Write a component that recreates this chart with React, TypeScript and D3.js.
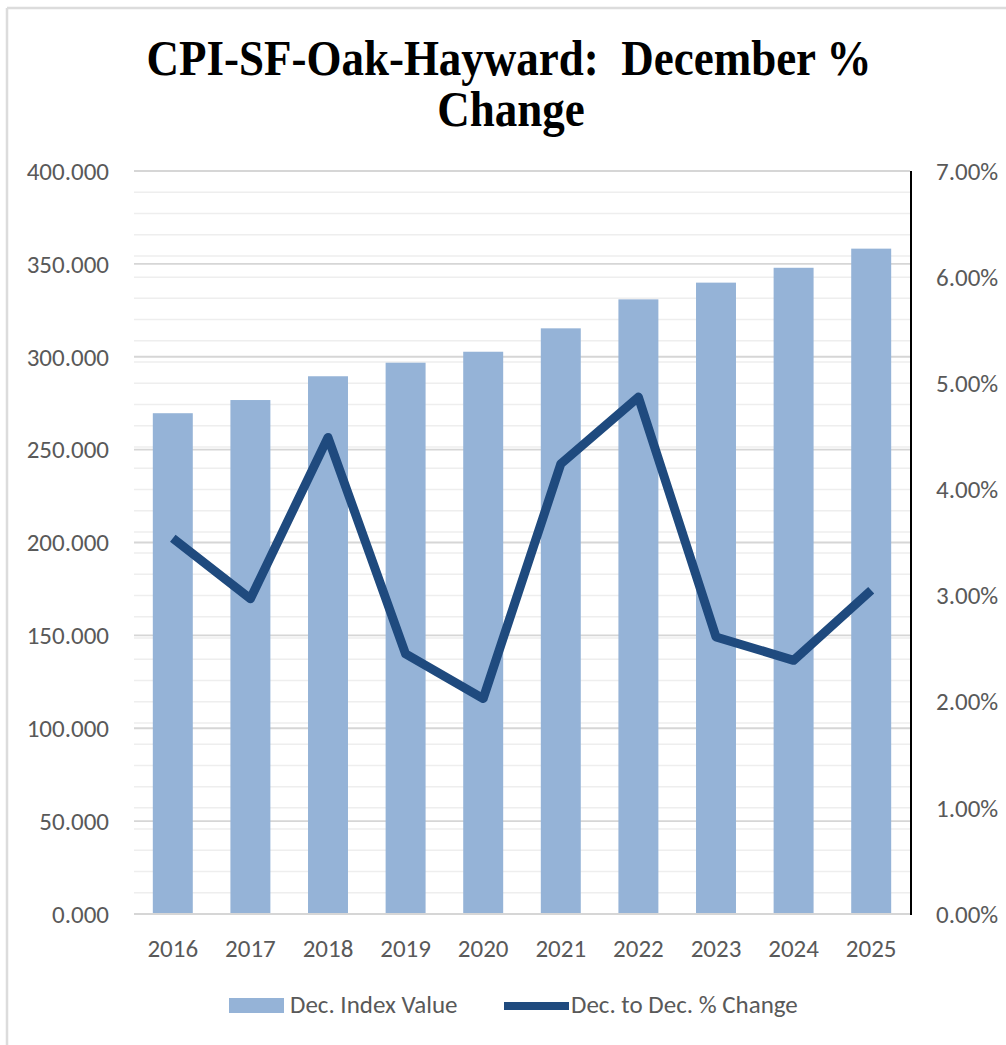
import React from "react";
import * as d3 from "d3";

const years = ["2016", "2017", "2018", "2019", "2020", "2021", "2022", "2023", "2024", "2025"];
const indexValues = [269.6, 276.7, 289.5, 296.8, 302.7, 315.3, 330.9, 339.9, 347.9, 358.2];
const pctChange = [3.54, 2.97, 4.49, 2.45, 2.03, 4.24, 4.87, 2.61, 2.39, 3.05];
const leftTicks = [0, 50, 100, 150, 200, 250, 300, 350, 400];
const rightTicks = [0, 1, 2, 3, 4, 5, 6, 7];
const titleLines = ["CPI-SF-Oak-Hayward:  December %", "Change"];
const legendLabels = ["Dec. Index Value", "Dec. to Dec. % Change"];

const W = 1006;
const H = 1045;
const plotLeft = 134;
const plotRight = 910;
const plotTop = 171;
const plotBottom = 914;

const BAR = "#95B3D7";
const LINE = "#1F4A7E";
const TXT = "#595959";
const FONT = "Carlito, Lato, sans-serif";

const keepSpaces = (s: string) => s.replace(/  /g, " \u00A0");

export default function App() {
  const x = d3
    .scaleBand<string>()
    .domain(years)
    .range([plotLeft, plotRight])
    .paddingInner(0.485)
    .paddingOuter(0.2425);
  const yL = d3.scaleLinear().domain([0, 400]).range([plotBottom, plotTop]);
  const yR = d3.scaleLinear().domain([0, 7]).range([plotBottom, plotTop]);

  const minorTicks = d3.range(0, 7.0001, 0.2);

  const line = d3
    .line<number>()
    .x((_, i) => (x(years[i]) as number) + x.bandwidth() / 2)
    .y((d) => yR(d));

  return (
    <svg
      width={W}
      height={H}
      style={{ position: "absolute", left: 0, top: 0, background: "#fff" }}
    >
      <rect x={0} y={0} width={W} height={H} fill="#fff" />
      {/* chart frame */}
      <line x1={7} y1={8} x2={W + 5} y2={8} stroke="#dcdcdc" strokeWidth={2.5} />
      <line x1={7} y1={8} x2={7} y2={H + 5} stroke="#dcdcdc" strokeWidth={2.5} />

      {/* title */}
      <g
        fontFamily="'Liberation Serif', 'Times New Roman', serif"
        fontWeight="bold"
        fill="#000"
      >
        <text x={509} y={75} textAnchor="middle" fontSize={50} transform="translate(509,0) scale(0.9,1) translate(-509,0)">
          {keepSpaces(titleLines[0])}
        </text>
        <text x={511} y={126} textAnchor="middle" fontSize={50} transform="translate(511,0) scale(0.9,1) translate(-511,0)">
          {titleLines[1]}
        </text>
      </g>

      {/* minor gridlines (secondary axis) */}
      {minorTicks.map((t, i) => (
        <line
          key={"m" + i}
          x1={plotLeft}
          x2={plotRight}
          y1={yR(t)}
          y2={yR(t)}
          stroke="#eeeeee"
          strokeWidth={1.5}
        />
      ))}
      {/* major gridlines (primary axis) */}
      {leftTicks.map((t) => (
        <line
          key={"g" + t}
          x1={plotLeft}
          x2={plotRight}
          y1={yL(t)}
          y2={yL(t)}
          stroke="#d6d6d6"
          strokeWidth={1.8}
        />
      ))}

      {/* bars */}
      {indexValues.map((v, i) => (
        <rect
          key={"b" + i}
          x={x(years[i])}
          y={yL(v)}
          width={x.bandwidth()}
          height={yL(0) - yL(v)}
          fill={BAR}
        />
      ))}

      {/* x axis line */}
      <line x1={plotLeft} x2={plotRight} y1={plotBottom} y2={plotBottom} stroke="#d6d6d6" strokeWidth={2} />
      {/* right axis line */}
      <line x1={911} x2={911} y1={plotTop} y2={plotBottom + 1} stroke="#000" strokeWidth={2} />

      {/* line series */}
      <path
        d={line(pctChange) || ""}
        fill="none"
        stroke={LINE}
        strokeWidth={9}
        strokeLinejoin="round"
        strokeLinecap="butt"
      />

      {/* axis labels */}
      <g fontFamily={FONT} fontSize={25} fill={TXT}>
        {leftTicks.map((t) => (
          <text key={"l" + t} x={109} y={yL(t)} dy="0.35em" textAnchor="end">
            {d3.format(".3f")(t)}
          </text>
        ))}
        {rightTicks.map((t) => (
          <text key={"r" + t} x={936} y={yR(t)} dy="0.35em" textAnchor="start">
            {d3.format(".2f")(t) + "%"}
          </text>
        ))}
        {years.map((yv) => (
          <text
            key={"x" + yv}
            x={(x(yv) as number) + x.bandwidth() / 2}
            y={957}
            textAnchor="middle"
          >
            {yv}
          </text>
        ))}
      </g>

      {/* legend */}
      <g fontFamily={FONT} fontSize={25} fill={TXT}>
        <rect x={229} y={998} width={55} height={15} fill={BAR} />
        <text x={290} y={1013}>{legendLabels[0]}</text>
        <rect x={504} y={1002} width={65} height={8} fill={LINE} />
        <text x={571} y={1013}>{legendLabels[1]}</text>
      </g>
    </svg>
  );
}
